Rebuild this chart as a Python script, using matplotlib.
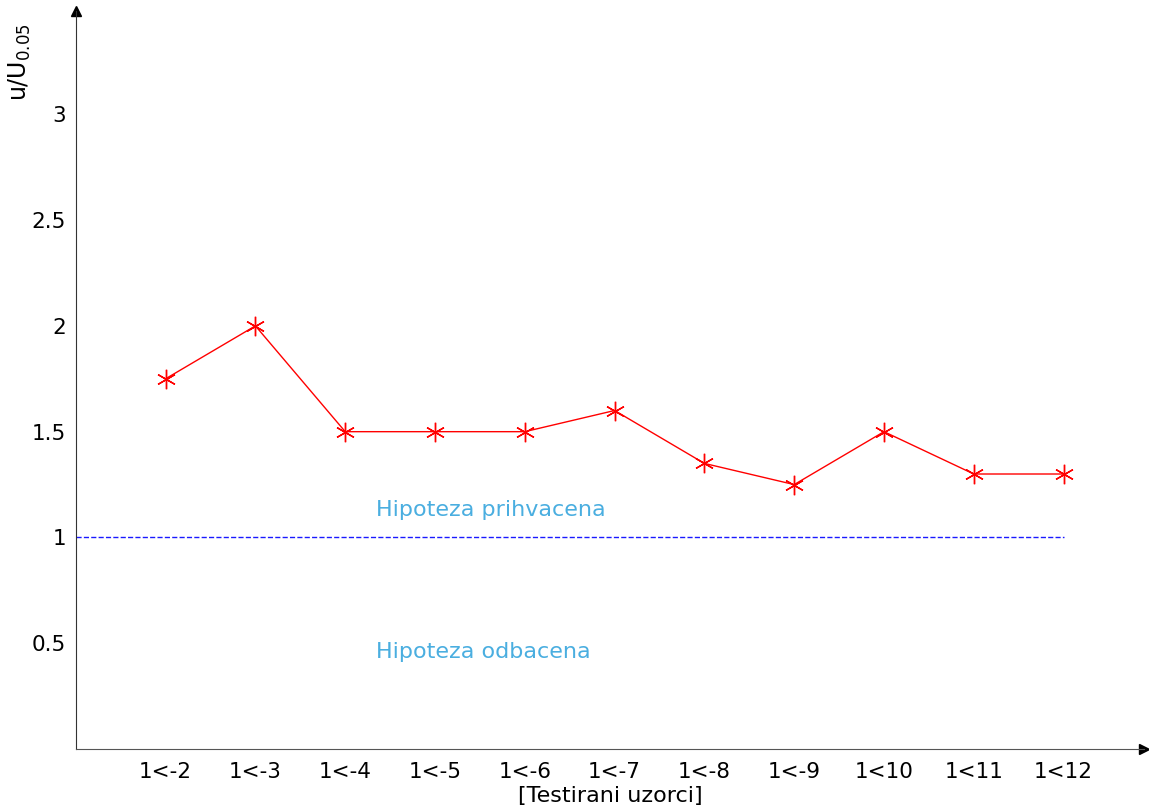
import numpy as np
import matplotlib
matplotlib.use("Agg")
from matplotlib import pyplot as plt

# tested samples and ratio u/U0.05
labels = ["1<-2", "1<-3", "1<-4", "1<-5", "1<-6", "1<-7", "1<-8", "1<-9", "1<10", "1<11", "1<12"]
ratio = [1.75, 2.0, 1.5, 1.5, 1.5, 1.6, 1.35, 1.25, 1.5, 1.3, 1.3]
threshold = 1.0

x = np.arange(1, len(labels) + 1)

fig = plt.figure(figsize=(11.49, 8.09), dpi=100)
ax = fig.add_axes([0.066, 0.074, 0.930, 0.913])

ax.plot(x, ratio, color="red", linewidth=1, marker=(6, 2, 0), markersize=14,
        markeredgewidth=1, markeredgecolor="red")
ax.plot([0, x[-1]], [threshold, threshold], color="#1a1aff", linestyle="--", linewidth=1)

ax.text(3.34, 1.13, "Hipoteza prihvacena", color="#4aaee0", fontsize=16, va="center", ha="left")
ax.text(3.34, 0.46, "Hipoteza odbacena", color="#4aaee0", fontsize=16, va="center", ha="left")

ax.set_xlim(0, 11.9)
ax.set_ylim(0, 3.49)
ax.set_xticks(x)
ax.set_xticklabels(labels)
ax.set_yticks([0.5, 1, 1.5, 2, 2.5, 3])
ax.set_yticklabels(["0.5", "1", "1.5", "2", "2.5", "3"])
ax.tick_params(length=0, labelsize=15.5)
ax.tick_params(axis="y", pad=7)
ax.tick_params(axis="x", pad=9)

for s in ["top", "right"]:
    ax.spines[s].set_visible(False)
ax.spines["left"].set_color("#333333")
ax.spines["bottom"].set_color("#555555")

# axis arrows
ax.plot(1, 0, ">k", markersize=7, transform=ax.get_yaxis_transform(), clip_on=False)
ax.plot(0, 1, "^k", markersize=7, transform=ax.get_xaxis_transform(), clip_on=False)

ax.set_xlabel("[Testirani uzorci]", fontsize=16, labelpad=3)
ax.set_ylabel("u/U$_{0.05}$", fontsize=17)
ax.yaxis.set_label_coords(-0.04, 0.93)

fig.savefig("out.png", dpi=100)
